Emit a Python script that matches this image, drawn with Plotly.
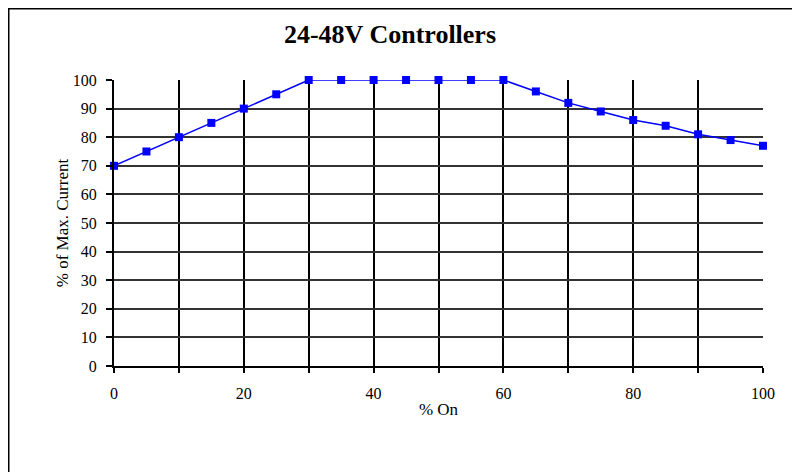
import plotly.graph_objects as go

x_on = [0, 5, 10, 15, 20, 25, 30, 35, 40, 45, 50, 55, 60, 65, 70, 75, 80, 85, 90, 95, 100]
pct_current = [70, 75, 80, 85, 90, 95, 100, 100, 100, 100, 100, 100, 100, 96, 92, 89, 86, 84, 81, 79, 77]
x_tickvals = [0, 10, 20, 30, 40, 50, 60, 70, 80, 90, 100]
x_ticktext = ["0", "", "20", "", "40", "", "60", "", "80", "", "100"]
y_tickvals = [0, 10, 20, 30, 40, 50, 60, 70, 80, 90, 100]

W, H = 800, 472
L, R, T, B = 106, 45, 72, 114
pw, ph = W - L - R, H - T - B

fig = go.Figure()
fig.add_trace(go.Scatter(
    x=x_on, y=pct_current, mode="lines+markers",
    line=dict(color="#0000FF", width=1.5),
    marker=dict(symbol="square", size=8, color="#0000FF"),
    showlegend=False, cliponaxis=False,
))

font = "Liberation Serif"
bx0 = (0.5 - L) / pw
bx1 = (W + 20 - L) / pw
by0 = -(H + 20 - T - ph) / ph
by1 = (T + ph - 0.5) / ph
fig.update_layout(
    width=W, height=H,
    margin=dict(l=L, r=R, t=T, b=B, pad=0),
    paper_bgcolor="white", plot_bgcolor="white",
    font=dict(family=font, size=16, color="black"),
    title=dict(text="24-48V Controllers", x=382 / W, xanchor="center",
               xref="container", y=1 - 26 / H, yref="container", yanchor="middle",
               font=dict(family=font, size=26, color="black", weight="bold")),
    xaxis=dict(range=[0, 100], tickvals=x_tickvals, ticktext=x_ticktext,
               showgrid=True, gridcolor="black", gridwidth=2,
               showline=True, linecolor="black", linewidth=2,
               ticks="outside", ticklen=5, tickwidth=2, tickcolor="black",
               zeroline=False, ticklabelstandoff=7,
               title=dict(text="% On", font=dict(family=font, size=17), standoff=2)),
    yaxis=dict(range=[0, 100], tickvals=y_tickvals,
               showgrid=True, gridcolor="#333333", gridwidth=1.5,
               showline=True, linecolor="black", linewidth=2,
               ticks="outside", ticklen=6, tickwidth=1.5, tickcolor="black",
               zeroline=False, ticklabelstandoff=6,
               title=dict(text="% of Max. Current", font=dict(family=font, size=17), standoff=0)),
    shapes=[dict(type="path", xref="paper", yref="paper",
                 path=f"M {bx0},{by0} L {bx0},{by1} L {bx1},{by1}",
                 line=dict(color="black", width=2), layer="below")],
)

fig.write_html("out.html")
